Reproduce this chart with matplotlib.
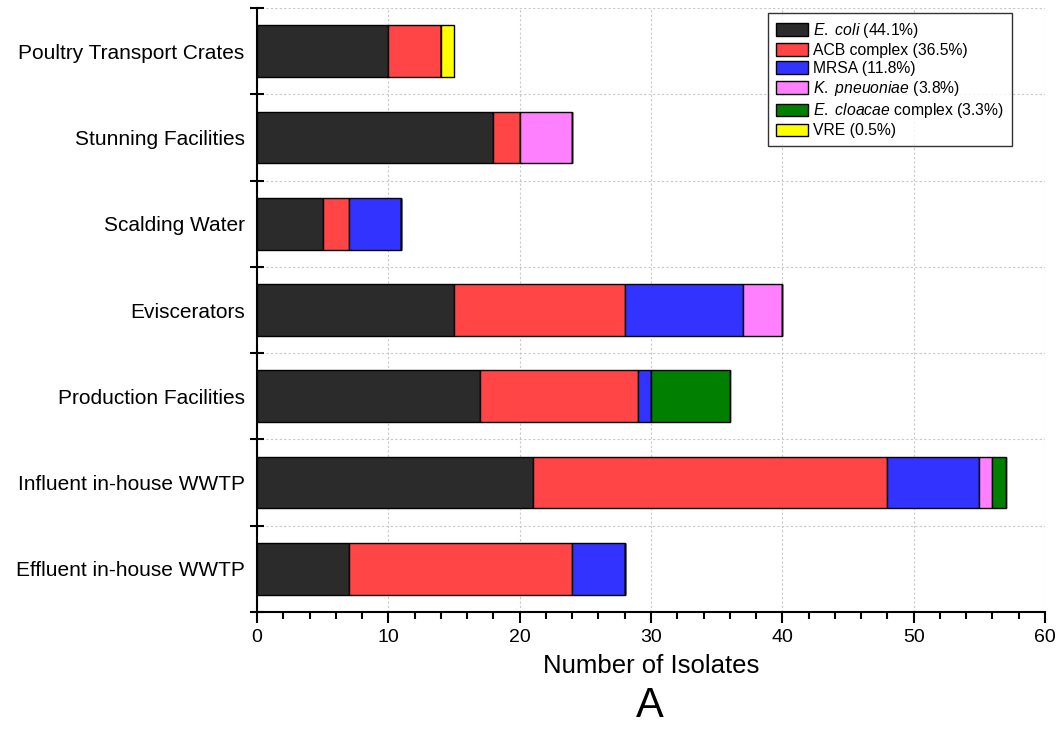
import matplotlib.pyplot as plt
from matplotlib.ticker import MultipleLocator, FixedLocator
from matplotlib.patches import Patch

plt.rcParams['font.family'] = ['Liberation Sans', 'DejaVu Sans']
plt.rcParams['mathtext.fontset'] = 'custom'
plt.rcParams['mathtext.rm'] = 'Liberation Sans'
plt.rcParams['mathtext.it'] = 'Liberation Sans:italic'

# sampling sites, top to bottom
sites = ["Poultry Transport Crates", "Stunning Facilities", "Scalding Water",
         "Eviscerators", "Production Facilities", "Influent in-house WWTP",
         "Effluent in-house WWTP"]

# isolate counts per site
e_coli = [10, 18, 5, 15, 17, 21, 7]
acb = [4, 2, 2, 13, 12, 27, 17]
mrsa = [0, 0, 4, 9, 1, 7, 4]
k_pneu = [0, 4, 0, 3, 0, 1, 0]
e_cloacae = [0, 0, 0, 0, 6, 1, 0]
vre = [1, 0, 0, 0, 0, 0, 0]

series = [e_coli, acb, mrsa, k_pneu, e_cloacae, vre]
colors = ["#2b2b2b", "#ff4545", "#3333ff", "#ff80ff", "#007f00", "#ffff00"]
names = [r"$\mathit{E.}$ $\mathit{coli}$ (44.1%)", "ACB complex (36.5%)",
         "MRSA (11.8%)", r"$\mathit{K.}$ $\mathit{pneuoniae}$ (3.8%)",
         r"$\mathit{E.}$ $\mathit{cloacae}$ complex (3.3%)", "VRE (0.5%)"]

fig = plt.figure(figsize=(10.59, 7.29), dpi=100)
ax = fig.add_axes([0.2427, 0.1605, 0.7441, 0.8285])

ypos = list(range(len(sites) - 1, -1, -1))
left = [0] * len(sites)
for vals, c in zip(series, colors):
    ax.barh(ypos, vals, left=left, height=0.6, color=c,
            edgecolor="black", linewidth=1, zorder=3)
    left = [a + b for a, b in zip(left, vals)]

ax.set_xlim(0, 60)
ax.set_ylim(-0.5, len(sites) - 0.5)
ax.set_yticks(ypos)
ax.set_yticklabels(sites, fontsize=15)
ax.yaxis.set_minor_locator(FixedLocator([i - 0.5 for i in range(len(sites) + 1)]))
ax.xaxis.set_major_locator(MultipleLocator(10))
ax.xaxis.set_minor_locator(MultipleLocator(2))

ax.tick_params(axis="y", which="major", length=0, pad=9)
ax.tick_params(axis="y", which="minor", direction="inout", length=10, width=1.5)
ax.tick_params(axis="x", which="major", direction="out", length=8, width=1.5,
               labelsize=14, pad=4)
ax.tick_params(axis="x", which="minor", direction="out", length=5, width=1.5)

for side in ["top", "right"]:
    ax.spines[side].set_visible(False)
for side in ["left", "bottom"]:
    ax.spines[side].set_linewidth(1.5)

ax.grid(axis="x", which="major", color="#c8c8c8", linestyle=(0, (2, 2)),
        linewidth=0.8, zorder=0)
ax.grid(axis="y", which="minor", color="#c8c8c8", linestyle=(0, (2, 2)),
        linewidth=0.8, zorder=0)

ax.set_xlabel("Number of Isolates", fontsize=18.5, labelpad=6)
fig.text(0.614, 0.004, "A", fontsize=30, ha="center", va="bottom")

handles = [Patch(facecolor=c, edgecolor="black", linewidth=1) for c in colors]
leg = ax.legend(handles, names, loc="upper right", bbox_to_anchor=(0.958, 0.992),
                fontsize=11.3, frameon=True, fancybox=False, handlelength=2.05,
                handleheight=0.85, handletextpad=0.32, labelspacing=0.2,
                borderpad=0.5, borderaxespad=0)
leg.get_frame().set_edgecolor("black")
leg.get_frame().set_linewidth(1)
leg.set_zorder(5)

fig.savefig("out.png", dpi=100)
